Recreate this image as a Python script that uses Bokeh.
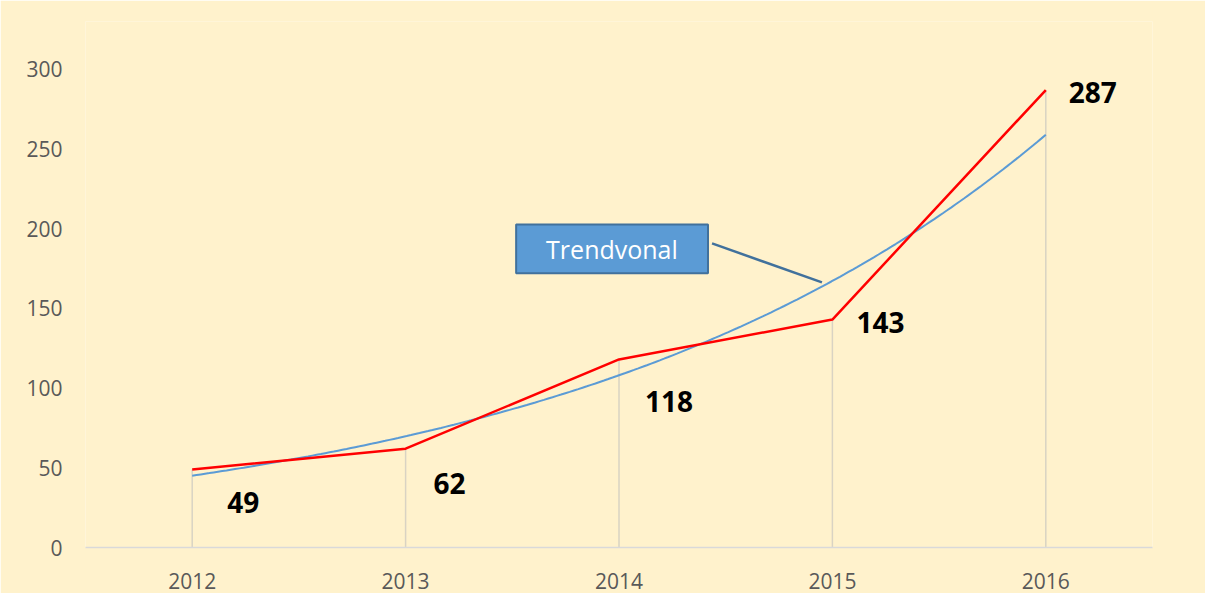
import numpy as np
from bokeh.plotting import figure
from bokeh.models import ColumnDataSource, Range1d, FixedTicker
from bokeh.core.properties import value
from bokeh.embed import file_html
from bokeh.resources import INLINE

# ---- data ----
years = [2012, 2013, 2014, 2015, 2016]
counts = [49, 62, 118, 143, 287]
y_ticks = [0, 50, 100, 150, 200, 250, 300]
callout_text = "Trendvonal"

# exponential trendline fitted to the data (as in the original chart)
t = np.arange(1, len(years) + 1)
b, a = np.polyfit(t, np.log(counts), 1)
tt = np.linspace(1, len(years), 200)
trend_x = years[0] + (tt - 1)
trend_y = np.exp(a + b * tt)

BG = "#FFF2CC"

p = figure(width=1205, height=593, output_backend="svg", toolbar_location=None,
           x_range=Range1d(2011.5, 2016.5), y_range=Range1d(0, 330),
           min_border_left=85, min_border_right=53, min_border_top=21, min_border_bottom=46,
           background_fill_color=BG, border_fill_color=BG, outline_line_color=None)

p.grid.visible = False

# axes
p.xaxis.ticker = FixedTicker(ticks=years)
p.xaxis.axis_line_color = "#D9D9D9"
p.xaxis.axis_line_width = 1.5
p.xaxis.major_tick_line_color = None
p.xaxis.minor_tick_line_color = None
p.xaxis.major_label_text_font = "Open Sans"
p.xaxis.major_label_text_font_size = "21px"
p.xaxis.major_label_text_color = "#595959"
p.xaxis.major_label_standoff = 19

p.yaxis.ticker = FixedTicker(ticks=y_ticks)
p.yaxis.axis_line_color = None
p.yaxis.major_tick_line_color = None
p.yaxis.minor_tick_line_color = None
p.yaxis.major_label_text_font = "Open Sans"
p.yaxis.major_label_text_font_size = "21px"
p.yaxis.major_label_text_color = "#595959"
p.yaxis.major_label_standoff = 17

src = ColumnDataSource(dict(
    x=years, y=counts, y0=[0] * len(years),
    lab=[str(c) for c in counts],
    dx=[51, 44, 50, 48, 47],
    dy=[33, 35, 42, 3, 2],
))

# drop lines
p.segment(x0="x", y0="y0", x1="x", y1="y", source=src, line_color="#D9D3C3", line_width=1.5)

# trendline
p.line(trend_x, trend_y, line_color="#5B9BD5", line_width=2)

# data line
p.line("x", "y", source=src, line_color="#FF0000", line_width=2.5)

# data labels
p.text("x", "y", text="lab", source=src, x_offset="dx", y_offset="dy",
       text_font=value("Open Sans"), text_font_style="bold", text_font_size="28px",
       text_color="#000000", text_align="center", text_baseline="middle")

# callout
p.segment(x0=[2014.436], y0=[190.8], x1=[2014.951], y1=[166.3],
          line_color="#41719C", line_width=2.5)
p.quad(left=[2013.518], right=[2014.417], bottom=[172.0], top=[202.7],
       fill_color="#5B9BD5", line_color="#41719C", line_width=2)
p.text([2013.967], [187.0], text=[callout_text], text_font=value("Open Sans"),
       text_font_size="25px", text_color="#FFFFFF", text_align="center",
       text_baseline="middle")

open("out.html", "w").write(file_html(p, INLINE))
